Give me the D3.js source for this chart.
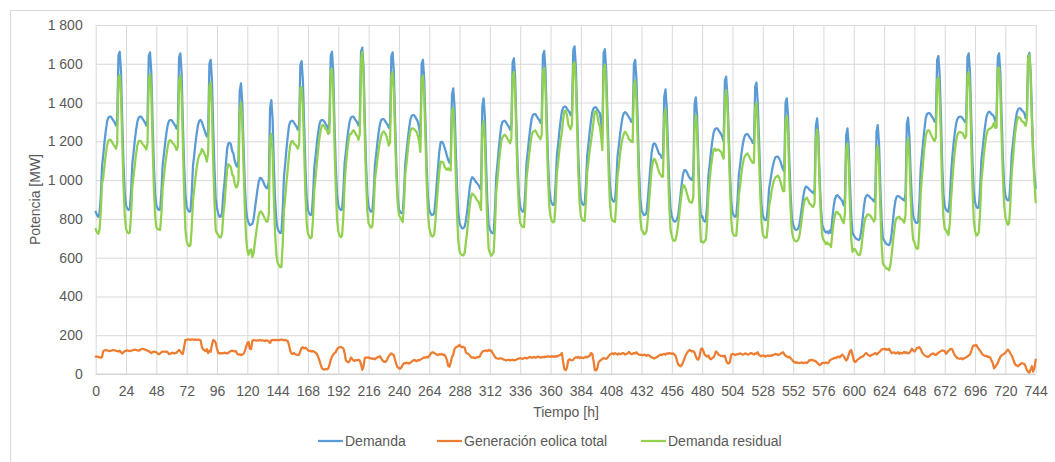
<!DOCTYPE html>
<html><head><meta charset="utf-8">
<script src="https://cdn.jsdelivr.net/npm/d3@7"></script>
<style>
body{margin:0;background:#fff}
svg text{font-family:"Liberation Sans",Arial,sans-serif;fill:#595959;font-size:14px}
</style>
</head><body>
<svg id="chart" width="1055" height="462"></svg>
<script>
// Hourly values, hour 0..744 (one row per day of 24 hours, last value = hour 744)
const demanda = [
837,820,811,829,914,1069,1131,1198,1255,1302,1322,1327,1327,1317,1307,1297,1282,1307,1642,1662,1562,1307,1086,933,
870,854,846,849,942,1086,1144,1207,1260,1302,1322,1327,1327,1317,1307,1297,1282,1307,1639,1659,1559,1307,1086,933,
870,854,846,849,939,1078,1134,1194,1245,1285,1305,1310,1310,1300,1290,1280,1265,1290,1634,1654,1554,1290,1074,922,
862,845,837,840,932,1074,1130,1192,1244,1285,1305,1310,1300,1280,1260,1240,1224,1250,1600,1620,1520,1270,1061,901,
856,826,811,812,830,930,990,1080,1160,1190,1192,1185,1150,1138,1100,1080,1070,1100,1460,1499,1400,1180,980,850,
800,780,768,770,775,800,850,900,950,990,1011,1010,1000,985,970,960,958,990,1370,1413,1320,1080,900,790,
750,735,727,730,843,1016,1085,1161,1224,1280,1300,1305,1305,1295,1285,1275,1260,1285,1594,1614,1514,1285,1062,907,
845,828,820,823,918,1065,1124,1188,1241,1285,1305,1310,1310,1300,1290,1280,1265,1290,1642,1662,1562,1290,1078,929,
870,854,846,849,942,1086,1144,1207,1260,1302,1322,1327,1327,1317,1307,1297,1282,1307,1663,1683,1583,1307,1082,925,
862,845,837,840,933,1076,1133,1196,1248,1290,1310,1315,1315,1305,1295,1285,1270,1295,1639,1659,1559,1295,1072,916,
850,836,829,832,930,1082,1143,1209,1264,1310,1330,1335,1335,1325,1315,1300,1270,1220,1600,1620,1520,1300,1065,910,
845,830,820,822,832,900,990,1070,1150,1195,1198,1190,1170,1150,1125,1104,1090,1110,1440,1473,1380,1160,960,830,
780,760,751,752,760,790,840,900,960,1000,1015,1010,1000,990,983,975,960,950,1380,1422,1330,1080,890,770,
745,732,726,729,842,1016,1085,1160,1224,1280,1300,1305,1305,1295,1285,1275,1260,1285,1608,1628,1528,1285,1071,921,
862,845,837,840,938,1089,1149,1214,1270,1315,1335,1340,1340,1330,1320,1310,1295,1320,1646,1666,1566,1320,1106,956,
900,880,872,875,973,1126,1186,1252,1308,1354,1374,1379,1379,1369,1359,1349,1334,1359,1670,1690,1590,1359,1125,963,
900,880,872,875,973,1124,1184,1249,1305,1350,1370,1375,1375,1365,1355,1345,1300,1233,1655,1675,1575,1355,1132,976,
915,897,889,892,981,1120,1175,1235,1285,1325,1345,1350,1345,1335,1325,1315,1300,1300,1600,1620,1520,1300,1060,906,
845,830,820,822,832,900,985,1065,1140,1180,1190,1185,1170,1150,1135,1130,1115,1120,1430,1468,1370,1160,970,850,
815,795,786,787,795,820,870,930,990,1035,1052,1050,1040,1025,1012,1005,1000,1030,1390,1427,1330,1100,920,810,
815,795,786,789,882,1026,1084,1147,1200,1242,1262,1267,1267,1257,1247,1237,1220,1200,1514,1534,1434,1247,1039,893,
835,818,811,814,896,1024,1075,1131,1177,1212,1232,1237,1237,1227,1217,1207,1192,1190,1483,1503,1403,1217,1016,874,
818,800,794,796,859,958,997,1039,1075,1100,1118,1121,1121,1111,1095,1075,1055,1045,1400,1422,1330,1100,932,811,
770,752,743,744,750,770,815,865,915,950,966,965,958,950,945,938,932,950,1280,1318,1230,1010,860,770,
750,738,730,735,726,740,728,800,860,900,918,923,915,908,900,890,870,905,1230,1267,1180,980,820,730,
715,705,698,694,691,700,740,800,860,905,920,923,918,910,905,898,890,910,1250,1284,1190,975,800,700,
690,678,670,667,665,680,725,790,850,895,915,918,915,910,905,900,895,930,1290,1322,1230,1040,900,815,
795,782,779,785,892,1063,1131,1204,1267,1321,1341,1346,1346,1336,1326,1316,1301,1320,1620,1640,1540,1326,1082,925,
865,848,840,837,900,1030,1120,1190,1245,1290,1315,1325,1327,1327,1320,1310,1300,1315,1634,1654,1554,1310,1092,941,
885,864,856,859,955,1103,1162,1227,1281,1325,1345,1353,1350,1340,1336,1326,1305,1320,1634,1654,1554,1330,1122,977,
920,903,895,898,990,1132,1190,1252,1304,1345,1365,1370,1370,1360,1355,1345,1320,1330,1637,1657,1560,1340,1140,1020,
960];

const eolica = [
90,90,88,86,84,88,118,122,124,122,120,118,120,122,124,122,120,118,116,120,112,106,112,118,
120,122,120,118,120,122,124,126,124,122,120,124,128,130,128,126,124,120,118,112,108,112,116,114,
112,106,102,106,112,116,116,114,116,112,102,104,108,110,106,108,110,118,124,116,106,104,140,176,
176,178,178,176,178,178,176,178,176,178,176,174,140,128,124,118,128,108,120,115,150,175,172,160,
130,108,106,108,106,108,110,108,106,108,116,118,120,118,116,118,104,100,102,98,100,104,118,140,
160,165,130,128,172,175,174,172,174,172,176,172,174,172,170,174,172,168,160,174,176,174,176,174,
176,174,176,178,176,174,176,172,170,150,120,105,104,108,102,100,98,100,118,135,138,132,136,130,
122,118,120,116,118,115,110,104,90,72,50,30,25,22,26,24,28,45,72,90,100,108,112,128,
135,138,140,136,132,108,70,64,60,66,85,78,70,68,72,70,74,70,50,22,40,82,86,84,
86,80,82,78,80,76,82,86,88,92,80,70,64,62,66,80,92,100,106,102,96,72,50,34,
30,28,34,48,56,54,58,56,54,58,64,68,72,70,66,72,70,74,78,82,86,84,88,86,
92,104,110,112,108,104,100,98,102,100,104,98,100,90,72,42,38,60,88,100,128,138,140,144,
150,142,138,140,136,112,106,104,96,88,84,86,82,84,88,86,90,104,115,118,120,122,118,124,
120,122,110,100,88,82,80,78,82,80,78,74,72,70,72,74,70,72,74,70,72,74,78,80,
82,80,78,82,84,80,82,86,88,84,86,88,84,86,90,88,84,86,88,86,90,88,92,90,
88,92,90,88,92,90,94,96,100,108,60,24,20,32,70,76,72,70,74,82,86,84,88,82,
86,84,82,86,88,86,90,94,108,104,70,22,18,30,60,68,72,78,82,80,78,84,92,100,
104,106,102,108,104,100,106,102,104,108,106,100,104,106,114,108,102,104,108,106,112,104,100,98,
100,96,100,98,94,98,96,90,86,84,80,84,86,90,96,100,98,102,104,100,106,104,108,106,
104,106,100,94,70,50,44,40,48,62,80,96,110,118,124,120,116,118,110,90,76,74,92,128,
132,118,100,94,90,96,80,76,82,86,100,116,110,100,96,92,94,90,94,70,56,54,62,100,
104,102,98,100,104,102,106,104,100,102,106,104,100,102,106,108,104,100,106,104,112,98,94,92,
96,94,90,92,96,92,96,94,98,100,104,102,98,100,104,108,112,102,94,90,86,88,82,74,
66,62,58,60,58,56,58,60,56,58,60,56,64,72,70,74,70,68,66,58,52,46,50,56,
58,56,60,56,58,70,74,78,80,84,82,88,90,86,94,100,92,80,70,78,100,118,124,100,
70,62,66,74,78,84,88,90,96,104,108,100,96,92,98,100,104,108,100,106,112,118,126,128,
130,126,128,124,130,118,108,110,112,106,108,112,104,110,106,110,114,108,112,106,110,118,130,122,
116,124,134,136,138,128,112,104,96,92,90,88,94,100,104,106,100,98,104,110,114,118,122,120,
118,104,112,120,126,130,126,110,96,88,82,80,78,82,76,80,84,86,90,96,100,118,140,148,
146,150,138,128,120,110,100,96,92,94,88,90,84,70,56,30,36,48,56,74,88,96,100,104,
110,118,126,118,104,96,80,60,48,44,40,46,52,56,54,52,40,20,12,8,24,40,12,30,
74];

const residual = [
747,730,723,743,830,981,1013,1076,1131,1180,1202,1209,1207,1195,1183,1175,1162,1189,1526,1542,1450,1201,974,815,
750,732,726,731,822,964,1020,1081,1136,1180,1202,1203,1199,1187,1179,1171,1158,1187,1521,1547,1451,1195,970,819,
758,748,744,743,827,962,1018,1080,1129,1173,1203,1206,1202,1190,1184,1172,1155,1172,1510,1538,1448,1186,934,746,
686,667,659,664,754,896,954,1014,1068,1107,1129,1136,1160,1152,1136,1122,1096,1142,1480,1505,1370,1095,889,741,
726,718,705,704,724,822,880,972,1054,1082,1076,1067,1030,1020,984,962,966,1000,1358,1401,1300,1076,862,710,
640,615,638,642,603,625,676,728,776,818,835,838,826,813,800,786,786,822,1210,1239,1144,906,724,616,
574,561,551,552,667,842,909,989,1054,1130,1180,1200,1201,1187,1183,1175,1162,1185,1476,1479,1376,1153,926,777,
723,710,700,707,800,950,1014,1084,1151,1213,1255,1280,1285,1278,1264,1256,1237,1245,1570,1572,1462,1182,966,801,
735,716,706,713,810,978,1074,1143,1200,1236,1237,1249,1257,1249,1235,1227,1208,1237,1613,1661,1543,1225,996,841,
776,765,755,762,853,1000,1051,1110,1160,1198,1230,1245,1251,1243,1229,1205,1178,1195,1533,1557,1463,1223,1022,882,
820,808,795,784,874,1028,1085,1153,1210,1252,1266,1267,1263,1255,1249,1228,1200,1146,1522,1538,1434,1216,977,824,
753,726,710,710,724,796,890,972,1048,1095,1094,1092,1070,1060,1053,1062,1052,1050,1352,1373,1252,1022,820,686,
630,618,613,612,624,678,734,796,864,912,931,924,918,906,895,889,870,846,1265,1304,1210,958,772,646,
625,610,616,629,754,934,1005,1082,1142,1200,1222,1231,1233,1225,1213,1201,1190,1213,1534,1558,1456,1211,993,841,
780,765,759,758,854,1009,1067,1128,1182,1231,1249,1252,1256,1244,1230,1222,1211,1234,1558,1580,1476,1232,1014,866,
812,788,782,787,881,1036,1092,1156,1208,1246,1314,1355,1359,1337,1289,1273,1262,1289,1596,1608,1504,1275,1037,881,
814,796,790,789,885,1038,1094,1155,1197,1246,1300,1353,1357,1335,1295,1277,1228,1155,1573,1595,1497,1271,1040,876,
811,791,787,784,877,1020,1069,1133,1181,1217,1239,1250,1241,1229,1211,1207,1198,1196,1492,1514,1408,1196,960,808,
745,734,720,724,738,802,889,975,1054,1096,1110,1101,1084,1060,1039,1030,1017,1018,1326,1368,1264,1056,862,744,
711,689,686,693,725,770,826,890,942,973,972,954,930,907,888,885,884,912,1280,1337,1254,1026,828,682,
683,677,686,695,792,930,1004,1071,1118,1156,1162,1151,1157,1157,1151,1145,1126,1110,1420,1464,1378,1193,977,793,
731,716,713,714,792,922,969,1027,1077,1110,1126,1133,1137,1125,1111,1099,1088,1090,1377,1399,1291,1119,922,782,
722,706,704,704,763,866,901,945,977,1000,1014,1019,1023,1011,991,967,943,943,1306,1332,1244,1012,850,737,
704,690,685,684,692,714,757,805,859,892,906,909,894,878,875,864,862,882,1214,1260,1178,964,810,714,
692,682,670,679,668,670,654,722,780,816,836,835,825,822,806,790,778,825,1160,1189,1080,862,696,630,
645,643,632,620,613,616,652,710,764,801,812,823,822,818,807,798,786,802,1150,1178,1078,857,674,572,
560,552,542,543,535,562,617,680,738,789,807,806,811,800,799,790,781,822,1178,1216,1120,922,770,693,
679,658,645,649,754,935,1019,1100,1171,1229,1251,1258,1252,1236,1222,1210,1201,1222,1516,1530,1426,1208,960,805,
747,744,728,717,774,900,994,1080,1149,1202,1233,1245,1249,1245,1244,1230,1216,1229,1544,1558,1454,1192,952,793,
739,714,718,731,835,993,1062,1131,1189,1231,1257,1263,1266,1270,1280,1296,1269,1272,1578,1580,1466,1234,1022,873,
810,785,769,780,886,1036,1110,1192,1256,1301,1325,1324,1318,1304,1301,1293,1280,1310,1625,1649,1536,1300,1128,990,
886];

const xTickLabels = [0,24,48,72,96,120,144,168,192,216,240,264,288,312,336,360,384,408,432,456,480,504,528,552,576,600,624,648,672,696,720,744];
const yTickLabels = [0,200,400,600,800,1000,1200,1400,1600,1800];
const seriesNames = ["Demanda","Generación eolica total","Demanda residual"];
const seriesColors = ["#5B9BD5","#ED7D31","#92D050"];

const svg = d3.select("#chart");
svg.append("rect").attr("x",10.5).attr("y",10.5).attr("width",1050).attr("height",460)
  .attr("fill","#fff").attr("stroke","#d9d9d9");

const L = 95.7, R = 1035.7, T = 25, B = 374;
const x = d3.scaleLinear().domain([0,744]).range([L,R]);
const y = d3.scaleLinear().domain([0,1800]).range([B,T]);
const loc = d3.formatLocale({decimal:",",thousands:"\u00a0",grouping:[3],currency:["",""]});
const fmt = loc.format(",");

// horizontal grid + y labels
const gy = svg.append("g").attr("transform",`translate(${L},0)`)
  .call(d3.axisLeft(y).tickValues(yTickLabels).tickSize(-(R-L)).tickPadding(13).tickFormat(fmt));
gy.select(".domain").remove();
gy.selectAll(".tick line").attr("stroke","#d9d9d9").attr("stroke-width",1);
gy.selectAll(".tick text").attr("fill","#595959").style("font-size","14px").attr("font-family",null);

// vertical grid + x labels
const gx = svg.append("g").attr("transform",`translate(0,${B})`)
  .call(d3.axisBottom(x).tickValues(xTickLabels).tickSize(-(B-T)).tickPadding(12).tickFormat(d=>d));
gx.select(".domain").remove();
gx.selectAll(".tick line").attr("stroke","#d9d9d9").attr("stroke-width",1);
gx.selectAll(".tick text").attr("fill","#595959").style("font-size","14px").attr("font-family",null);

svg.append("line").attr("x1",L).attr("x2",R).attr("y1",B).attr("y2",B).attr("stroke","#d0d0d0");

// lines
const line = d3.line().x((d,i)=>x(i)).y(d=>y(d));
[demanda, eolica, residual].forEach((s,k)=>{
  svg.append("path").datum(s).attr("d",line).attr("fill","none")
    .attr("stroke",seriesColors[k]).attr("stroke-width",2.25)
    .attr("stroke-linejoin","round").attr("stroke-linecap","round");
});

// axis titles
svg.append("text").attr("x",566).attr("y",417).attr("text-anchor","middle").text("Tiempo [h]");
svg.append("text").attr("transform",`translate(40,${(T+B)/2}) rotate(-90)`)
  .attr("text-anchor","middle").text("Potencia [MW]");

// legend
const legX = [318, 437, 641];
const lg = svg.append("g");
seriesNames.forEach((n,k)=>{
  lg.append("line").attr("x1",legX[k]).attr("x2",legX[k]+25).attr("y1",441).attr("y2",441)
    .attr("stroke",seriesColors[k]).attr("stroke-width",2.25);
  lg.append("text").attr("x",legX[k]+27).attr("y",446).text(n);
});
</script>
</body></html>
